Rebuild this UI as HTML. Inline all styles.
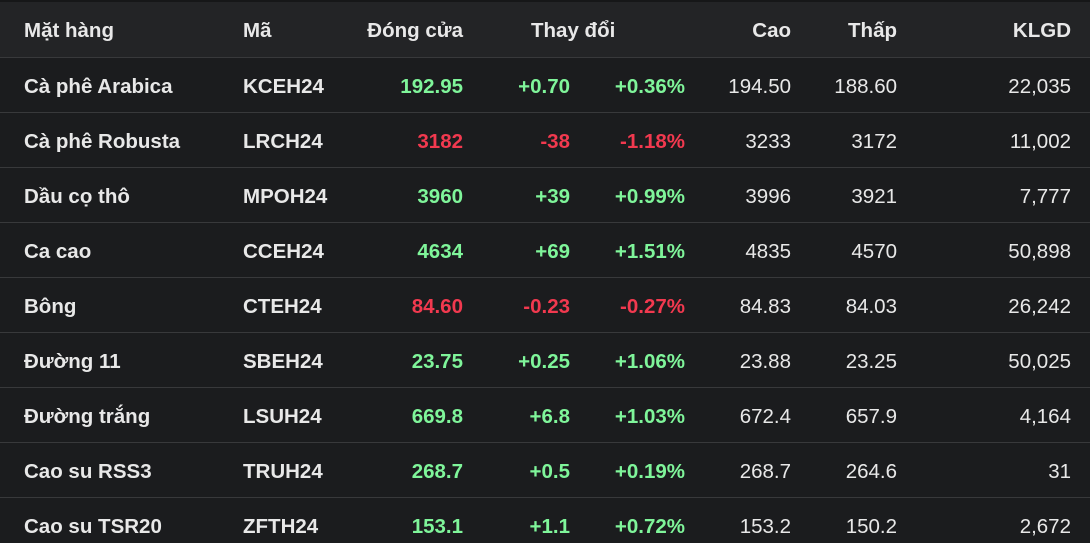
<!DOCTYPE html>
<html><head><meta charset="utf-8"><style>
body{margin:0;width:1090px;height:543px;background:#1b1c1e;overflow:hidden;font-family:"Liberation Sans",sans-serif;color:#e8e8e8}
.hdr{position:absolute;left:0;top:2px;width:1090px;height:55px;background:#232426}
.top{position:absolute;left:0;top:0;width:1090px;height:2px;background:#161718}
.line{position:absolute;left:0;width:1090px;height:1px;background:#38393b}
.c{position:absolute;font-size:20.5px;line-height:24px;white-space:nowrap}
.b{font-weight:bold}
.r{text-align:right}
.g{color:#7ff59a}.d{color:#f2394f}
</style></head><body>
<div class="top"></div><div class="hdr"></div>
<div id="t"></div>
<script>
var rows=[
["Cà phê Arabica","KCEH24","192.95","+0.70","+0.36%","194.50","188.60","22,035",1],
["Cà phê Robusta","LRCH24","3182","-38","-1.18%","3233","3172","11,002",0],
["Dầu cọ thô","MPOH24","3960","+39","+0.99%","3996","3921","7,777",1],
["Ca cao","CCEH24","4634","+69","+1.51%","4835","4570","50,898",1],
["Bông","CTEH24","84.60","-0.23","-0.27%","84.83","84.03","26,242",0],
["Đường 11","SBEH24","23.75","+0.25","+1.06%","23.88","23.25","50,025",1],
["Đường trắng","LSUH24","669.8","+6.8","+1.03%","672.4","657.9","4,164",1],
["Cao su RSS3","TRUH24","268.7","+0.5","+0.19%","268.7","264.6","31",1],
["Cao su TSR20","ZFTH24","153.1","+1.1","+0.72%","153.2","150.2","2,672",1]];
var h='';
function L(x,y,t,cls){return '<div class="c '+cls+'" style="left:'+x+'px;top:'+y+'px">'+t+'</div>';}
function R(x,y,t,cls){return '<div class="c r '+cls+'" style="right:'+(1090-x)+'px;top:'+y+'px">'+t+'</div>';}
var hy=19;
h+=L(24,hy,"Mặt hàng","b")+L(243,hy,"Mã","b")+R(463,hy,"Đóng cửa","b")+L(531,hy,"Thay đổi","b")+R(791,hy,"Cao","b")+R(897,hy,"Thấp","b")+R(1071,hy,"KLGD","b");
rows.forEach(function(r,i){
 var top=57+i*55;
 h+='<div class="line" style="top:'+top+'px"></div>';
 var y=top+18, col=r[8]?'g':'d';
 h+=L(24,y,r[0],"b")+L(243,y,r[1],"b")+R(463,y,r[2],"b "+col)+R(570,y,r[3],"b "+col)+R(685,y,r[4],"b "+col)+R(791,y,r[5],"")+R(897,y,r[6],"")+R(1071,y,r[7],"");
});
document.getElementById('t').innerHTML=h;
</script>
</body></html>
